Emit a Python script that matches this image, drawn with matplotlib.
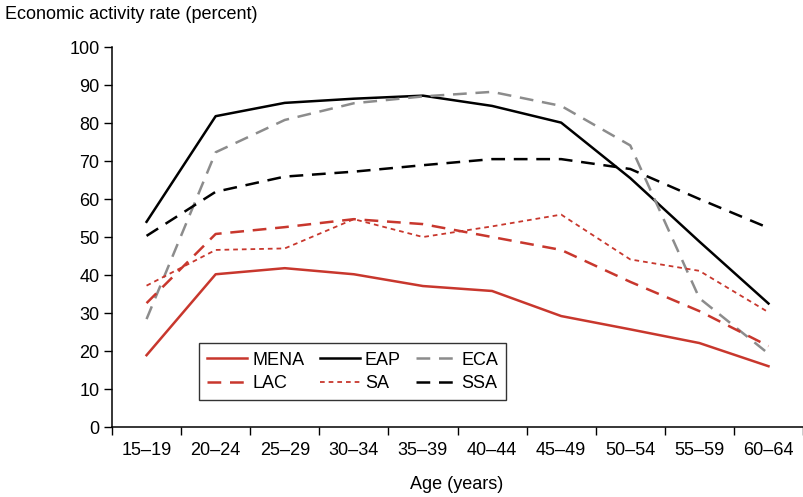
import matplotlib
matplotlib.use("Agg")
import matplotlib.pyplot as plt
import numpy as np

plt.rcParams['font.family'] = ['Liberation Sans', 'DejaVu Sans']

age_groups = ["15–19", "20–24", "25–29", "30–34", "35–39",
              "40–44", "45–49", "50–54", "55–59", "60–64"]

mena = [18.9, 40.2, 41.8, 40.2, 37.1, 35.8, 29.2, 25.7, 22.1, 16.0]
eap = [54.0, 81.8, 85.3, 86.4, 87.2, 84.5, 80.1, 65.5, 48.8, 32.5]
eca = [28.4, 72.3, 80.8, 85.2, 87.0, 88.2, 84.5, 74.1, 33.9, 19.3]
lac = [32.6, 50.8, 52.6, 54.7, 53.4, 50.0, 46.6, 38.2, 30.5, 21.3]
sa = [37.2, 46.6, 47.0, 54.7, 50.0, 52.8, 55.9, 44.1, 41.1, 30.2]
ssa = [50.3, 61.9, 65.9, 67.2, 68.9, 70.5, 70.5, 67.9, 60.0, 52.4]

red = "#C8372D"
gray = "#8C8C8C"

fig = plt.figure(figsize=(8.04, 4.97), dpi=100)
ax = fig.add_axes([0.1393, 0.1408, 0.8595, 0.7646])

x = np.arange(len(age_groups))
h_mena, = ax.plot(x, mena, color=red, lw=1.8, label="MENA")
h_eap, = ax.plot(x, eap, color="black", lw=1.8, label="EAP")
h_eca, = ax.plot(x, eca, color=gray, lw=1.8, dashes=(5.5, 3.5), label="ECA")
h_lac, = ax.plot(x, lac, color=red, lw=1.8, dashes=(5.5, 3.5), label="LAC")
h_sa, = ax.plot(x, sa, color=red, lw=1.3, dashes=(2.6, 2.2), label="SA")
h_ssa, = ax.plot(x, ssa, color="black", lw=1.8, dashes=(5.5, 3.5), label="SSA")

ax.set_xlim(-0.5, len(age_groups) - 0.5)
ax.set_ylim(0, 100)
ax.set_yticks(np.arange(0, 101, 10))
ax.set_xticks(np.arange(-0.5, len(age_groups), 1.0))
ax.set_xticklabels([])
ax.set_xticks(x, minor=True)
ax.set_xticklabels(age_groups, minor=True)
ax.tick_params(axis="x", which="major", direction="out", length=6, width=1)
ax.tick_params(axis="x", which="minor", length=0, pad=11, labelsize=13)
ax.tick_params(axis="y", direction="out", length=6, width=1, labelsize=13, pad=3)

for side in ("top", "right"):
    ax.spines[side].set_visible(False)
for side in ("left", "bottom"):
    ax.spines[side].set_linewidth(1.1)

fig.text(0.006, 0.970, "Economic activity rate (percent)", fontsize=13,
         ha="left", va="center")
fig.text(0.568, 0.026, "Age (years)", fontsize=13, ha="center", va="center")

# legend columns are filled top-to-bottom, so order handles column by column
handles = [h_mena, h_lac, h_eap, h_sa, h_eca, h_ssa]
leg = ax.legend(handles=handles, labels=[h.get_label() for h in handles],
                ncol=3, loc="lower left", bbox_to_anchor=(0.126, 0.071),
                fontsize=13, frameon=True, fancybox=False, handlelength=2.2,
                handletextpad=0.3, columnspacing=0.85, borderpad=0.45,
                labelspacing=0.35, borderaxespad=0)
leg.get_frame().set_edgecolor("black")
leg.get_frame().set_linewidth(1.0)

fig.savefig("out.png", dpi=100)
